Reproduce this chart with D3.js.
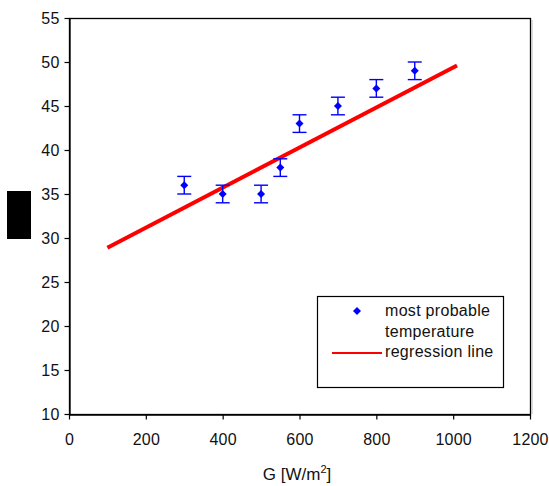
<!DOCTYPE html>
<html>
<head>
<meta charset="utf-8">
<script src="https://cdn.jsdelivr.net/npm/d3@7"></script>
<style>
  body { margin: 0; background: #fff; }
  svg { display: block; font-family: "Liberation Sans", Arial, sans-serif; }
</style>
</head>
<body>
<svg id="chart" width="549" height="486"></svg>
<script>
// irradiance G [W/m2] and most probable temperature
const gValues = [300, 400, 500, 550, 600, 700, 800, 900]
const tempValues = [36, 35, 35, 38, 43, 45, 47, 49]
const errValues = [1, 1, 1, 1, 1, 1, 1, 1]

// regression line end points
const regG = [100, 1010]
const regT = [28.9, 49.6]

const xTicks = [0, 200, 400, 600, 800, 1000, 1200]
const yTicks = [10, 15, 20, 25, 30, 35, 40, 45, 50, 55]
const legendLabels = ['most probable', 'temperature', 'regression line']

const svg = d3.select('#chart')
const plotLeft = 69, plotRight = 530, plotTop = 18, plotBottom = 414

const x = d3.scaleLinear().domain([0, 1200]).range([plotLeft, plotRight])
const y = d3.scaleLinear().domain([10, 55]).range([plotBottom, plotTop])

// plot frame
svg.append('rect')
  .attr('x', plotLeft + 0.5).attr('y', plotTop + 0.5)
  .attr('width', plotRight - plotLeft).attr('height', plotBottom - plotTop)
  .attr('fill', 'none').attr('stroke', '#000').attr('stroke-width', 1.3)
svg.append('line')
  .attr('x1', plotRight + 2).attr('x2', plotRight + 2).attr('y1', plotTop + 2).attr('y2', plotBottom)
  .attr('stroke', '#bbb').attr('stroke-width', 1)

// axes
const xAxis = svg.append('g').attr('transform', `translate(0,${plotBottom + 0.5})`)
  .call(d3.axisBottom(x).tickValues(xTicks).tickFormat(d3.format('d'))
    .tickSize(5).tickPadding(14).tickSizeOuter(0))
const yAxis = svg.append('g').attr('transform', `translate(${plotLeft + 0.5},0)`)
  .call(d3.axisLeft(y).tickValues(yTicks).tickFormat(d3.format('d'))
    .tickSize(5).tickPadding(5).tickSizeOuter(0))

;[xAxis, yAxis].forEach(g => {
  g.select('.domain').attr('stroke', '#000').attr('stroke-width', 1.3)
  g.selectAll('.tick line').attr('stroke', '#000').attr('stroke-width', 1.2)
  g.selectAll('.tick text').attr('fill', '#111').attr('font-size', '16px')
    .attr('font-family', '"Liberation Sans", Arial, sans-serif').style('letter-spacing', '0.2px')
})

// regression line
svg.append('path')
  .datum(regG.map((g, i) => [g, regT[i]]))
  .attr('d', d3.line().x(d => x(d[0])).y(d => y(d[1])))
  .attr('stroke', '#ff0000').attr('stroke-width', 4).attr('fill', 'none')

// error bars
const pts = gValues.map((g, i) => ({ g: g, t: tempValues[i], e: errValues[i] }))
const bars = svg.append('g').attr('stroke', '#0000ff').attr('stroke-width', 1.4)
bars.selectAll('.v').data(pts).enter().append('line')
  .attr('x1', d => x(d.g)).attr('x2', d => x(d.g))
  .attr('y1', d => y(d.t - d.e)).attr('y2', d => y(d.t + d.e))
bars.selectAll('.capHi').data(pts).enter().append('line')
  .attr('x1', d => x(d.g) - 7).attr('x2', d => x(d.g) + 7)
  .attr('y1', d => y(d.t + d.e)).attr('y2', d => y(d.t + d.e))
bars.selectAll('.capLo').data(pts).enter().append('line')
  .attr('x1', d => x(d.g) - 7).attr('x2', d => x(d.g) + 7)
  .attr('y1', d => y(d.t - d.e)).attr('y2', d => y(d.t - d.e))

// markers, square diamond like excel
const diamondType = {
  draw(ctx, size) {
    const r = Math.sqrt(size / 2)
    ctx.moveTo(0, -r); ctx.lineTo(r, 0); ctx.lineTo(0, r); ctx.lineTo(-r, 0); ctx.closePath()
  }
}
const diamond = d3.symbol().type(diamondType).size(32)
svg.append('g').selectAll('path').data(pts).enter().append('path')
  .attr('d', diamond)
  .attr('transform', d => `translate(${x(d.g)},${y(d.t)})`)
  .attr('fill', '#0000ff')

// legend
const lg = svg.append('g')
lg.append('rect').attr('x', 317.5).attr('y', 296.5).attr('width', 186).attr('height', 91)
  .attr('fill', '#fff').attr('stroke', '#000').attr('stroke-width', 1.2)
lg.append('path').attr('d', diamond).attr('transform', 'translate(357,311)').attr('fill', '#0000ff')
lg.append('line').attr('x1', 332).attr('x2', 382).attr('y1', 353).attr('y2', 353)
  .attr('stroke', '#ff0000').attr('stroke-width', 2)
lg.selectAll('text').data(legendLabels).enter().append('text')
  .attr('x', 385).attr('y', (d, i) => 316 + i * 20.5)
  .attr('font-size', '16px').attr('fill', '#111').style('letter-spacing', '0.3px')
  .text(d => d)

// axis title
const title = svg.append('text').attr('x', 297).attr('y', 480).attr('text-anchor', 'middle')
  .attr('font-size', '17px').attr('fill', '#111')
title.append('tspan').text('G [W/m')
title.append('tspan').attr('font-size', '11px').attr('dy', -7).text('2')
title.append('tspan').attr('dy', 7).text(']')

// black box over the y axis title
svg.append('rect').attr('x', 7).attr('y', 191).attr('width', 24).attr('height', 48).attr('fill', '#000')
</script>
</body>
</html>
